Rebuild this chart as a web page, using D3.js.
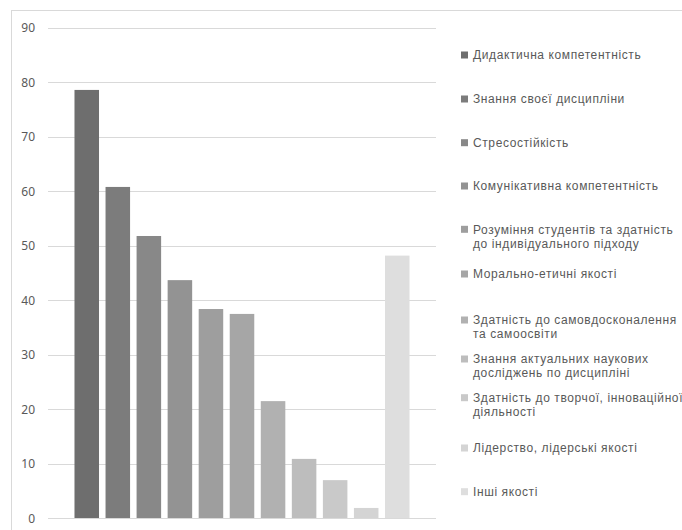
<!DOCTYPE html>
<html><head><meta charset="utf-8">
<script src="https://cdn.jsdelivr.net/npm/d3@7/dist/d3.min.js"></script>
<style>
html,body{margin:0;padding:0;background:#fff;overflow:hidden;}
svg{display:block;}
text{font-family:"Noto Sans","Open Sans",sans-serif;fill:#595959;}
</style></head>
<body>
<svg id="chart" width="682" height="530"></svg>
<script>
// ---- data ----
const series = [
  "Дидактична компетентність",
  "Знання своєї дисципліни",
  "Стресостійкість",
  "Комунікативна компетентність",
  "Розуміння студентів та здатність\nдо індивідуального підходу",
  "Морально-етичні якості",
  "Здатність до самовдосконалення\nта самоосвіти",
  "Знання актуальних наукових\nдосліджень по дисципліні",
  "Здатність до творчої, інноваційної\nдіяльності",
  "Лідерство, лідерські якості",
  "Інші якості"
];
const values = [78.6, 60.8, 51.8, 43.7, 38.4, 37.5, 21.5, 10.9, 7.0, 1.9, 48.2];
const colors = ["#6e6e6e","#7c7c7c","#888888","#939393","#9e9e9e","#a6a6a6","#b1b1b1","#bdbdbd","#c9c9c9","#d4d4d4","#dedede"];
const yTicks = [0, 10, 20, 30, 40, 50, 60, 70, 80, 90];

// ---- layout ----
const svg = d3.select("#chart");
const plot = {left: 48, right: 436, top: 27.8, bottom: 518.3};
const legendY = [55, 99, 142.7, 186, 229.3, 274, 320, 359, 397.7, 448, 491.7];

// chart border (extends beyond the view on right and bottom)
svg.append("rect").attr("x", 11.5).attr("y", 10.5).attr("width", 700).attr("height", 540)
  .attr("fill", "none").attr("stroke", "#d9d9d9").attr("stroke-width", 1);

const y = d3.scaleLinear().domain([0, 90]).range([plot.bottom, plot.top]);
const x = d3.scaleBand().domain(series).range([plot.left, plot.right])
  .paddingInner(0.21).paddingOuter(0.853);

// gridlines
svg.append("g").selectAll("line").data(yTicks).join("line")
  .attr("x1", plot.left).attr("x2", plot.right)
  .attr("y1", d => Math.round(y(d)) + 0.5).attr("y2", d => Math.round(y(d)) + 0.5)
  .attr("stroke", "#d9d9d9").attr("stroke-width", 1);

// y axis labels
const yAxis = d3.axisLeft(y).tickValues(yTicks).tickSize(0).tickPadding(0);
const gy = svg.append("g").attr("transform", "translate(35,0)").call(yAxis);
gy.select(".domain").remove();
gy.selectAll("text").attr("font-size", 12).style("fill", "#595959")
  .style("font-family", '"Noto Sans",sans-serif');

// bars
svg.append("g").selectAll("rect").data(values).join("rect")
  .attr("x", (d, i) => x(series[i]))
  .attr("width", x.bandwidth())
  .attr("y", d => y(d))
  .attr("height", d => y(0) - y(d))
  .attr("fill", (d, i) => colors[i]);

// baseline
svg.append("line").attr("x1", plot.left).attr("x2", plot.right)
  .attr("y1", Math.round(y(0)) + 0.5).attr("y2", Math.round(y(0)) + 0.5)
  .attr("stroke", "#d9d9d9");

// legend
const lg = svg.append("g");
series.forEach((s, i) => {
  const cy = legendY[i];
  lg.append("rect").attr("x", 461).attr("y", cy - 3.5).attr("width", 7).attr("height", 7)
    .attr("fill", colors[i]);
  s.split("\n").forEach((line, j) => {
    lg.append("text").attr("x", 473).attr("y", cy + j * 14).attr("dy", "0.35em")
      .attr("font-size", 12).style("font-family", '"Liberation Sans",Arial,sans-serif')
      .style("letter-spacing", "0.6px")
      .text(line);
  });
});
</script>
</body></html>
